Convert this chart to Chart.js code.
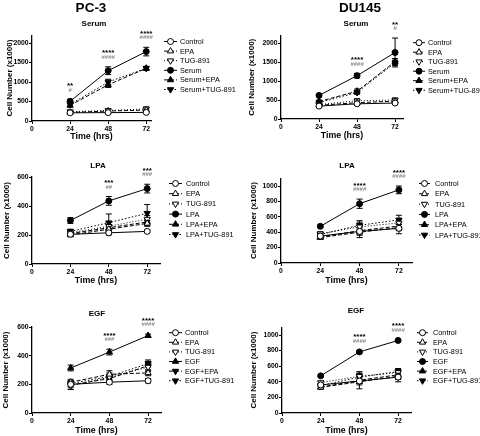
<!DOCTYPE html>
<html lang="en">
<head>
<meta charset="UTF-8">
<title>PC-3 / DU145 cell number</title>
<script src="https://cdn.jsdelivr.net/npm/chart.js@4"></script>
<style>
  body { margin: 0; background: #fff; }
  #fig { position: relative; width: 480px; height: 436px; background: #fff; }
  #fig canvas { position: absolute; }
</style>
</head>
<body>
<div id="fig">
  <canvas id="c1" width="240" height="145" style="left:0;top:0"></canvas>
  <canvas id="c2" width="240" height="145" style="left:240px;top:0"></canvas>
  <canvas id="c3" width="240" height="145" style="left:0;top:145px"></canvas>
  <canvas id="c4" width="240" height="145" style="left:240px;top:145px"></canvas>
  <canvas id="c5" width="240" height="146" style="left:0;top:290px"></canvas>
  <canvas id="c6" width="240" height="146" style="left:240px;top:290px"></canvas>
</div>

<script>
// data
const timePoints = [24, 48, 72];
const xTicks = [0, 24, 48, 72];
const serumYTicks = [0, 500, 1000, 1500, 2000];
const pc3YTicks = [0, 200, 400, 600];
const du145YTicks = [0, 200, 400, 600, 800, 1000];

const serumLabels = ['Control', 'EPA', 'TUG-891', 'Serum', 'Serum+EPA', 'Serum+TUG-891'];
const lpaLabels = ['Control', 'EPA', 'TUG-891', 'LPA', 'LPA+EPA', 'LPA+TUG-891'];
const egfLabels = ['Control', 'EPA', 'TUG-891', 'EGF', 'EGF+EPA', 'EGF+TUG-891'];

const pc3SerumMean = [[210, 215, 220], [220, 255, 280], [240, 270, 310], [505, 1290, 1780], [400, 930, 1350], [420, 1000, 1350]];
const pc3SerumSem = [[20, 15, 15], [25, 30, 30], [30, 35, 50], [50, 100, 110], [40, 70, 50], [40, 70, 50]];
const pc3SerumStars = ['**', '****', '****'];
const pc3SerumHash = ['#', '####', '####'];

const du145SerumMean = [[340, 400, 420], [360, 430, 470], [380, 480, 500], [620, 1140, 1750], [460, 730, 1510], [430, 700, 1480]];
const du145SerumSem = [[25, 30, 30], [25, 35, 40], [30, 50, 50], [25, 60, 380], [40, 60, 80], [40, 50, 70]];
const du145SerumStars = ['', '****', '**'];
const du145SerumHash = ['', '####', '#'];

const pc3LpaMean = [[205, 215, 225], [200, 240, 280], [215, 260, 310], [300, 435, 520], [210, 250, 290], [225, 285, 350]];
const pc3LpaSem = [[10, 15, 10], [10, 20, 20], [10, 25, 25], [20, 30, 30], [10, 20, 25], [15, 60, 60]];
const pc3LpaStars = ['', '***', '***'];
const pc3LpaHash = ['', '##', '###'];

const du145LpaMean = [[350, 410, 450], [330, 400, 460], [380, 470, 520], [476, 770, 950], [340, 420, 480], [370, 490, 560]];
const du145LpaSem = [[20, 80, 70], [20, 40, 40], [25, 60, 50], [15, 60, 50], [20, 40, 50], [25, 60, 60]];
const du145LpaStars = ['', '****', '****'];
const du145LpaHash = ['', '####', '####'];

const pc3EgfMean = [[200, 215, 225], [215, 270, 280], [190, 250, 320], [314, 425, 540], [195, 240, 330], [205, 255, 345]];
const pc3EgfSem = [[20, 15, 15], [20, 25, 20], [25, 20, 30], [20, 20, 10], [30, 20, 30], [20, 25, 25]];
const pc3EgfStars = ['', '****', '****'];
const pc3EgfHash = ['', '###', '####'];

const du145EgfMean = [[360, 410, 460], [330, 400, 470], [390, 470, 520], [476, 783, 930], [330, 420, 490], [350, 460, 530]];
const du145EgfSem = [[20, 100, 60], [20, 40, 40], [20, 60, 40], [10, 15, 10], [20, 40, 40], [20, 50, 40]];
const du145EgfStars = ['', '****', '****'];
const du145EgfHash = ['', '####', '####'];

// marker / line style per series position
const seriesStyle = [
  { point: 'circle', rot: 0, fill: false, dash: [] },
  { point: 'triangle', rot: 0, fill: false, dash: [4, 2] },
  { point: 'triangle', rot: 180, fill: false, dash: [1, 2] },
  { point: 'circle', rot: 0, fill: true, dash: [] },
  { point: 'triangle', rot: 0, fill: true, dash: [4, 2] },
  { point: 'triangle', rot: 180, fill: true, dash: [1.5, 2] }
];
const egfPc3Style = seriesStyle.slice();
egfPc3Style[3] = { point: 'triangle', rot: 0, fill: true, dash: [] };
egfPc3Style[4] = { point: 'triangle', rot: 180, fill: true, dash: [4, 2] };

const FONT = '"Liberation Sans", Arial, sans-serif';
Chart.defaults.font.family = FONT;

function markerRadius(s) {
  return s.point === 'circle' ? 3 : 3.6;
}

function makePanel(id, p) {
  const canvas = document.getElementById(id);
  const W = canvas.width, H = canvas.height;
  const padL = p.yTitleX - 4.8;
  const scaleBottom = p.xTitleY + 4.8;
  const styles = p.styles || seriesStyle;

  const datasets = p.labels.map((lab, i) => {
    const s = styles[i];
    return {
      label: lab,
      data: timePoints.map((t, j) => ({ x: t, y: p.mean[i][j] })),
      borderColor: '#000',
      borderWidth: 1,
      borderDash: s.dash,
      pointStyle: s.point,
      pointRotation: s.rot,
      pointRadius: markerRadius(s),
      pointBackgroundColor: s.fill ? '#000' : '#fff',
      pointBorderColor: '#000',
      pointBorderWidth: 1,
      fill: false,
      tension: 0
    };
  });

  const errorBars = {
    id: 'errorBars',
    beforeDatasetsDraw(chart) {
      const ctx = chart.ctx, xs = chart.scales.x, ys = chart.scales.y;
      ctx.save();
      ctx.strokeStyle = '#000';
      ctx.lineWidth = 1;
      p.mean.forEach((m, i) => {
        m.forEach((v, j) => {
          const x = xs.getPixelForValue(timePoints[j]);
          const y1 = ys.getPixelForValue(v + p.sem[i][j]);
          const y2 = ys.getPixelForValue(v - p.sem[i][j]);
          ctx.beginPath();
          ctx.moveTo(x, y1); ctx.lineTo(x, y2);
          ctx.moveTo(x - 3, y1); ctx.lineTo(x + 3, y1);
          ctx.moveTo(x - 3, y2); ctx.lineTo(x + 3, y2);
          ctx.stroke();
        });
      });
      ctx.restore();
    }
  };

  const deco = {
    id: 'deco',
    afterDraw(chart) {
      const ctx = chart.ctx, xs = chart.scales.x, ys = chart.scales.y;
      ctx.save();
      ctx.textAlign = 'center';
      ctx.textBaseline = 'middle';
      ctx.fillStyle = '#000';
      if (p.header) {
        ctx.font = 'bold 13.5px ' + FONT;
        ctx.fillText(p.header, p.headerX, 8);
      }
      ctx.font = 'bold 8px ' + FONT;
      ctx.fillText(p.title, p.titleX, p.titleY);

      // significance marks above the highest error bar
      timePoints.forEach((t, j) => {
        const topVal = Math.max(...p.mean.map((m, i) => m[j] + p.sem[i][j]));
        const x = xs.getPixelForValue(t);
        const y = ys.getPixelForValue(topVal);
        ctx.fillStyle = '#000';
        ctx.font = 'bold 8px ' + FONT;
        ctx.fillText(p.stars[j], x, y - 13.5);
        ctx.fillStyle = '#8c8c8c';
        ctx.font = 'bold 6px ' + FONT;
        ctx.fillText(p.hash[j], x, y - 9.5);
      });

      // legend
      ctx.textAlign = 'left';
      p.labels.forEach((lab, i) => {
        const s = styles[i];
        const y = p.legTop + i * p.legGap;
        ctx.strokeStyle = '#000';
        ctx.lineWidth = 1;
        ctx.setLineDash(s.dash);
        ctx.beginPath();
        ctx.moveTo(p.legX0, y); ctx.lineTo(p.legX1, y);
        ctx.stroke();
        ctx.setLineDash([]);
        ctx.fillStyle = s.fill ? '#000' : '#fff';
        Chart.helpers.drawPoint(ctx, { pointStyle: s.point, rotation: s.rot, radius: markerRadius(s), borderWidth: 1 }, (p.legX0 + p.legX1) / 2, y);
        ctx.fillStyle = '#000';
        ctx.font = '7.3px ' + FONT;
        ctx.fillText(lab, p.legText, y + 0.5);
      });
      ctx.restore();
    }
  };

  const axisGrid = { drawOnChartArea: false, drawTicks: true, tickLength: 3, color: '#000', lineWidth: 1 };
  const axisBorder = { color: '#000', width: 1.3 };
  const tickFont = { size: 6.8, weight: 'bold' };

  return new Chart(canvas, {
    type: 'line',
    data: { datasets },
    options: {
      responsive: false,
      animation: false,
      devicePixelRatio: 1,
      layout: { padding: { left: padL, top: p.top, right: W - p.right, bottom: H - scaleBottom } },
      plugins: { legend: { display: false }, tooltip: { enabled: false }, title: { display: false } },
      scales: {
        x: {
          type: 'linear', min: 0, max: p.xMax,
          afterBuildTicks: s => { s.ticks = xTicks.map(v => ({ value: v })); },
          afterFit: s => { s.height = scaleBottom - p.bottom; },
          grid: axisGrid, border: axisBorder,
          ticks: { color: '#000', font: tickFont, padding: 1, maxRotation: 0, autoSkip: false, callback: v => String(v) },
          title: { display: true, text: 'Time (hrs)', color: '#000', font: { size: 8.8, weight: 'bold' }, padding: 0 }
        },
        y: {
          type: 'linear', min: 0, max: p.yMax,
          afterBuildTicks: s => { s.ticks = p.yTicks.map(v => ({ value: v })); },
          afterFit: s => { s.width = p.left - padL; },
          grid: axisGrid, border: axisBorder,
          ticks: { color: '#000', font: tickFont, padding: 0.5, autoSkip: false, callback: v => String(v) },
          title: { display: true, text: 'Cell Number (x1000)', color: '#000', font: { size: 8, weight: 'bold' }, padding: 0 }
        }
      }
    },
    plugins: [errorBars, deco]
  });
}

makePanel('c1', {
  labels: serumLabels, mean: pc3SerumMean, sem: pc3SerumSem, stars: pc3SerumStars, hash: pc3SerumHash,
  header: 'PC-3', headerX: 91, title: 'Serum', titleX: 94, titleY: 24,
  left: 32, right: 151, top: 35.2, bottom: 121, xMax: 75, yMax: 2200, yTicks: serumYTicks,
  yTitleX: 10, xTitleY: 137,
  legX0: 164, legX1: 177, legText: 180, legTop: 41.5, legGap: 9.6
});
makePanel('c2', {
  labels: serumLabels, mean: du145SerumMean, sem: du145SerumSem, stars: du145SerumStars, hash: du145SerumHash,
  header: 'DU145', headerX: 120, title: 'Serum', titleX: 116, titleY: 24,
  left: 41, right: 163, top: 35.4, bottom: 119, xMax: 77, yMax: 2200, yTicks: serumYTicks,
  yTitleX: 12, xTitleY: 136,
  legX0: 173, legX1: 185, legText: 188, legTop: 42.7, legGap: 9.5
});
makePanel('c3', {
  labels: lpaLabels, mean: pc3LpaMean, sem: pc3LpaSem, stars: pc3LpaStars, hash: pc3LpaHash,
  title: 'LPA', titleX: 98, titleY: 21,
  left: 32, right: 160, top: 32, bottom: 119, xMax: 80, yMax: 600, yTicks: pc3YTicks,
  yTitleX: 7, xTitleY: 136,
  legX0: 169, legX1: 182, legText: 186, legTop: 38.5, legGap: 10.2
});
makePanel('c4', {
  labels: lpaLabels, mean: du145LpaMean, sem: du145LpaSem, stars: du145LpaStars, hash: du145LpaHash,
  title: 'LPA', titleX: 107, titleY: 21,
  left: 41, right: 172, top: 33.3, bottom: 118, xMax: 80, yMax: 1100, yTicks: du145YTicks,
  yTitleX: 14, xTitleY: 136,
  legX0: 179, legX1: 190, legText: 195, legTop: 38.5, legGap: 10.3
});
makePanel('c5', {
  labels: egfLabels, mean: pc3EgfMean, sem: pc3EgfSem, stars: pc3EgfStars, hash: pc3EgfHash, styles: egfPc3Style,
  title: 'EGF', titleX: 97, titleY: 24,
  left: 32, right: 161, top: 37, bottom: 123, xMax: 80, yMax: 600, yTicks: pc3YTicks,
  yTitleX: 6, xTitleY: 140.7,
  legX0: 169, legX1: 182, legText: 185, legTop: 42.7, legGap: 9.6
});
makePanel('c6', {
  labels: egfLabels, mean: du145EgfMean, sem: du145EgfSem, stars: du145EgfStars, hash: du145EgfHash,
  title: 'EGF', titleX: 116, titleY: 21,
  left: 42, right: 171, top: 37.2, bottom: 123, xMax: 80, yMax: 1100, yTicks: du145YTicks,
  yTitleX: 14, xTitleY: 140.7,
  legX0: 177, legX1: 188, legText: 193, legTop: 42.7, legGap: 9.6
});
</script>
</body>
</html>
